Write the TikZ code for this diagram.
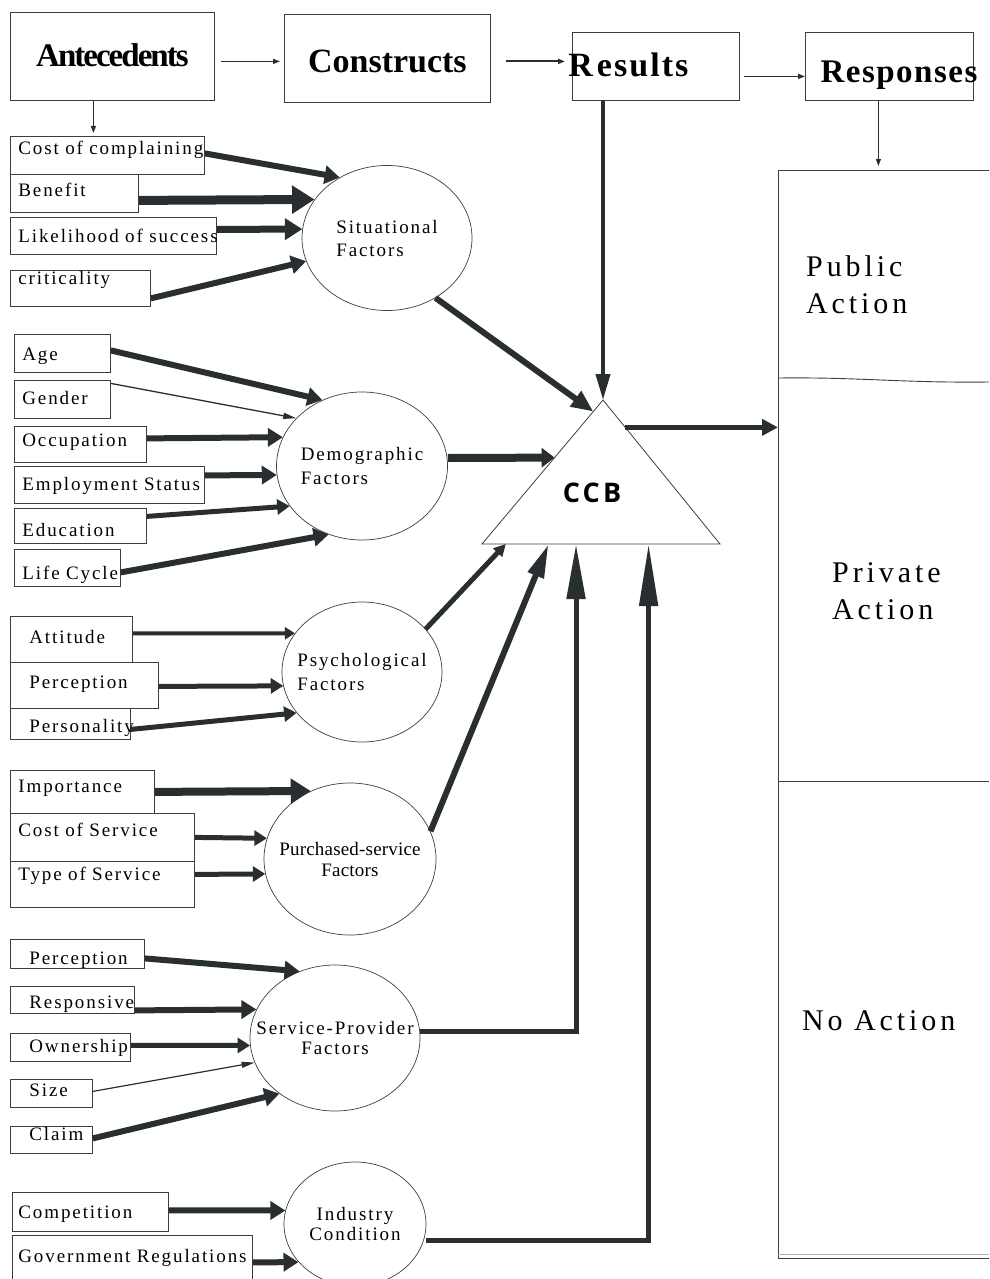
\documentclass[tikz,border=0pt]{standalone}
\usepackage{fontspec}
\setmainfont{Liberation Serif}
\newfontfamily\lblfont[LetterSpace=10]{Liberation Serif}
\newfontfamily\bigfont[LetterSpace=13]{Liberation Serif}
\newfontfamily\ccbfont[LetterSpace=12]{Open Sans}
\usetikzlibrary{positioning,calc,shapes.geometric,arrows.meta}
\definecolor{ink}{RGB}{41,46,48}
\definecolor{rim}{RGB}{62,62,62}

\begin{document}
\begin{tikzpicture}[x=1pt, y=-1pt,
  item/.style n args={4}{draw=rim, line width=0.8pt, anchor=north west, inner ysep=0pt, font=\lblfont\fontsize{19}{23}\selectfont, text width=#1pt, inner xsep=#2pt, text height=#3pt, text depth=#4pt, execute at begin node={\hbox to 0pt\bgroup}, execute at end node={\hss\egroup}},
  hdr/.style={draw=rim, line width=0.8pt, anchor=north west, inner ysep=0pt},
  fac/.style={draw=rim, line width=0.7pt, ellipse, inner sep=-30pt, font=\lblfont\fontsize{19}{23}\selectfont},
  big/.style={font=\bigfont\fontsize{30}{37}\selectfont, align=left, inner sep=0pt, anchor=north west},
  push/.style={draw=ink, line width=#1pt, -{Triangle[length=0pt 2.5, width=0pt 3]}},
  tipsz/.style 2 args={-{Triangle[length=#1, width=#2]}},
  link/.style={draw=ink, line width=1.3pt, -{Triangle[length=13pt, width=6pt]}},
  hdlink/.style={draw=ink, line width=#1pt, -{Triangle[length=7pt, width=5pt]}}]

\useasboundingbox (0,0) rectangle (989,1279);
\clip (0,0) rectangle (989,1279);

% ---- header row ----
\node[hdr, minimum width=204pt, text height=54pt, text depth=34pt, font=\bfseries\fontsize{33}{36}\selectfont\addfontfeature{LetterSpace=-6}] (ant) at (10,12) {Antecedents};
\node[hdr, minimum width=206pt, text height=58pt, text depth=30pt, font=\bfseries\fontsize{34}{36}\selectfont] (con) at (284,14) {Constructs};
\node[hdr, text width=175pt, inner xsep=-4pt, align=left, text height=44pt, text depth=24pt, font=\bfseries\fontsize{34}{36}\selectfont\addfontfeature{LetterSpace=6}] (res) at (572,32) {R\kern4pt esults};
\node[hdr, text width=176pt, inner xsep=-4pt, align=right, text height=50pt, text depth=18pt, font=\bfseries\fontsize{33}{36}\selectfont\addfontfeature{LetterSpace=4.5}] (rsp) at (805,32) {Responses};

\draw[hdlink=1.3, shorten <=6pt, shorten >=4pt] ([yshift=-5pt]ant.east) -- ([yshift=-3pt]con.west);
\draw[hdlink=2, shorten <=15pt, shorten >=7pt] ([yshift=-3pt]con.east) -- ([yshift=5pt]res.west);
\draw[hdlink=1.2, shorten <=4pt] ([yshift=-10pt]res.east) -- ([yshift=-10pt]rsp.west);
\draw[hdlink=1.3, shorten >=3pt] ([xshift=-19pt]ant.south) -- ([xshift=-19pt]ant.south |- 0,136);
\draw[hdlink=1.3, shorten >=4pt] ([xshift=-11pt]rsp.south) -- ([xshift=-11pt]rsp.south |- 0,170);

% ---- responses column ----
\node[hdr, line width=1.2pt, minimum width=240pt, minimum height=1088pt, inner sep=0pt] (acts) at (778,170) {};
\draw[rim, line width=0.9pt] (acts.west |- 0,378) .. controls (860,377) and (900,383) .. (989,382);
\draw[rim, line width=0.9pt] (acts.west |- 0,781) -- (989,781);
\draw[gray!60, line width=0.6pt] (acts.west |- 0,1254) -- (989,1254);
\node[big] (pub) at (806,255.5) {Public\\Action};
\node[big] (pri) at (832,562.5) {Private\\Action};
\node[big] (non) at (802,1010.5) {No Action};

% ---- CCB ----
\coordinate (apex) at (603,400);
\coordinate (bl) at (482,544);
\coordinate (br) at (720,544);
\draw[rim, line width=0.8pt] (apex) -- (bl) -- (br) -- cycle;
\node[font=\ccbfont\bfseries\fontsize{27}{30}\selectfont] (ccb) at (592,493) {CCB};

% ---- factors ----
\node[fac, align=left, minimum width=170pt, minimum height=145pt] (sit) at (387,238) {Situational\\Factors};
\node[fac, align=left, minimum width=171pt, minimum height=148pt, font=\lblfont\fontsize{19}{24}\selectfont] (dem) at (362,466) {Demographic\\Factors};
\node[fac, align=left, minimum width=160pt, minimum height=140pt, font=\lblfont\fontsize{19}{24}\selectfont] (psy) at (362,672) {Psychological\\Factors};
\node[fac, align=center, minimum width=172pt, minimum height=152pt, font=\lblfont\fontsize{19}{21}\selectfont\addfontfeature{LetterSpace=1}] (pur) at (350,859) {Purchased-service\\Factors};
\node[fac, align=center, minimum width=170pt, minimum height=146pt, font=\lblfont\fontsize{19}{20}\selectfont] (spf) at (335,1038) {Service-Provider\\Factors};
\node[fac, align=center, minimum width=142pt, minimum height=124pt, font=\lblfont\fontsize{19}{20}\selectfont] (ind) at (355,1224) {Industry\\Condition};

% ---- antecedent items ----
\node[item={178}{8}{18}{20}] (cost) at (10,136) {Cost of complaining};
\node[item={112}{8}{22}{16}] (ben) at (10,174) {Benefit};
\node[item={190}{8}{25}{12}] (lik) at (10,217) {Likelihood of success};
\node[item={124}{8}{14}{22}] (crit) at (10,270) {criticality};

\node[item={80}{8}{26}{12}] (age) at (14,334) {Age};
\node[item={80}{8}{24}{14}] (gen) at (14,380) {Gender};
\node[item={116}{8}{20}{16}] (occ) at (14,426) {Occupation};
\node[item={174}{8}{24}{13}] (emp) at (14,466) {Employment Status};
\node[item={116}{8}{28}{7}] (edu) at (14,508) {Education};
\node[item={90}{8}{30}{7}] (lif) at (14,549) {Life Cycle};

\node[item={84}{19}{27}{19}] (att) at (10,616) {Attitude};
\node[item={110}{19}{26}{20}] (per) at (10,662) {Perception};
\node[item={82}{19}{24}{7}] (pers) at (10,708) {Personality};

\node[item={128}{8}{22}{21}] (imp) at (10,770) {Importance};
\node[item={168}{8}{23}{25}] (cos) at (10,813) {Cost of Service};
\node[item={168}{8}{19}{27}] (typ) at (10,861) {Type of Service};

\node[item={96}{19}{25}{4}] (sper) at (10,939) {Perception};
\node[item={86}{19}{22}{5}] (resp) at (10,986) {Responsive};
\node[item={82}{19}{19}{9}] (own) at (10,1033) {Ownership};
\node[item={44}{19}{17}{11}] (siz) at (10,1079) {Size};
\node[item={44}{19}{14}{13}] (clm) at (10,1126) {Claim};

\node[item={144}{6}{26}{13}] (comp) at (12,1192) {Competition};
\node[item={228}{6}{27}{23}] (gov) at (12,1235) {Government Regulations};

% ---- items into factors ----
\draw[push=6] ([yshift=2pt]cost.east) -- (sit.128);
\draw[push=9] ([yshift=-7pt]ben.east) -- (sit.152);
\draw[push=7] ([yshift=6.5pt]lik.east) -- (sit.174);
\draw[push=6] ([yshift=-10pt]crit.east) -- (sit.196);

\draw[push=6] ([yshift=3pt]age.east) -- (dem.121);
\draw[link] ([yshift=16pt]gen.east) -- (dem.144);
\draw[push=6] ([yshift=6pt]occ.east) -- (dem.160);
\draw[push=6] ([yshift=9.5pt]emp.east) -- (dem.186);
\draw[push=5] ([yshift=9.5pt]edu.east) -- (dem.209);
\draw[push=6] ([yshift=-4.5pt]lif.east) -- (dem.244);

\draw[push=4] ([yshift=6pt]att.east) -- (psy.150);
\draw[push=5] ([yshift=-1pt]per.east) -- (psy.190);
\draw[push=5] ([yshift=-5.5pt]pers.east) -- (psy.212);

\draw[push=8] (imp.east) -- (pur.120);
\draw[push=5] (cos.east) -- (pur.166);
\draw[push=5] ([yshift=10pt]typ.east) -- (pur.190);

\draw[push=6] ([yshift=-4.5pt]sper.east) -- (spf.118);
\draw[push=6] ([yshift=-10.5pt]resp.east) -- (spf.160);
\draw[push=5] ([yshift=2pt]own.east) -- (spf.185);
\draw[link, line width=1.2pt] ([yshift=2pt]siz.east) -- (spf.197);
\draw[push=6] ([yshift=1.5pt]clm.east) -- (spf.225);

\draw[push=6] ([yshift=1.5pt]comp.east) -- (ind.169);
\draw[push=6] ([yshift=-2pt]gov.east) -- (ind.214);

% ---- factors into CCB ----
\draw[push=4, tipsz={26pt}{14pt}] (apex |- res.south) -- (apex);
\draw[push=6, tipsz={22pt}{18pt}] (sit.309) -- ($(bl)!0.92!(apex)$);
\draw[push=8, tipsz={13pt}{19pt}] ([yshift=8pt]dem.east) -- ($(bl)!0.6!(apex)$);
\draw[push=5, tipsz={12pt}{12pt}] (psy.34) -- ($(bl)!0.1!(br)$);
\draw[push=6, tipsz={34pt}{16pt}] (pur.19) -- ($(bl)!0.28!(br)$);
\draw[push=5, tipsz={55pt}{18pt}] ([yshift=7pt]spf.east) -| ($(bl)!0.395!(br)$);
\draw[push=5, tipsz={62pt}{18pt}] ([yshift=-16pt]ind.east) -| ($(bl)!0.7!(br)$);

% ---- CCB into responses ----
\draw[push=5, tipsz={16pt}{16pt}] ($(apex)!0.19!(br)$) coordinate (ccbout) -- (ccbout -| acts.west);
\end{tikzpicture}
\end{document}
